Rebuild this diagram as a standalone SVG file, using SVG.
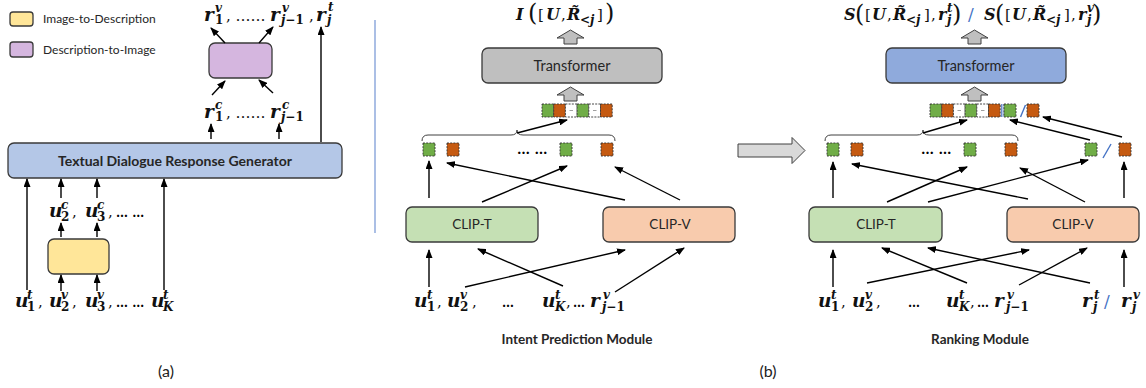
<svg xmlns="http://www.w3.org/2000/svg" width="1146" height="388" viewBox="0 0 1146 388">
<defs>
<marker id="ah" markerWidth="9" markerHeight="7" refX="8" refY="3.5" orient="auto" markerUnits="userSpaceOnUse">
<path d="M0,0 L9,3.5 L0,7 Z" fill="#000"/>
</marker>
<style>
.box{stroke:#3a3a3a;stroke-width:1.3}
.lbl{font-family:Lato,"Liberation Sans",sans-serif;fill:#262626}
.m{font-family:"DejaVu Serif",serif;font-weight:bold;font-style:italic;font-size:18.5px;fill:#111}
.t{font-family:"DejaVu Serif",serif;font-weight:bold;font-style:italic;font-size:16px;fill:#111}
.s{font-weight:bold;font-style:italic;font-size:12px}
.d{font-weight:bold;font-style:normal;font-size:12px}
.p{font-weight:normal;font-style:normal;font-size:15px}
.e{font-weight:bold;font-style:normal;font-size:12px;fill:#000}
.big{font-weight:normal;font-style:normal;font-size:24px}
.sl{font-weight:normal;font-style:normal;font-size:17px;fill:#4472c4}
.conn line{stroke:#000;stroke-width:1.4;marker-end:url(#ah)}
.g{fill:#70ad47;stroke:#333;stroke-width:0.9;stroke-dasharray:2 1.2}
.o{fill:#c55a11;stroke:#333;stroke-width:0.9;stroke-dasharray:2 1.2}
.w{fill:#fff;stroke:#333;stroke-width:0.9;stroke-dasharray:2 1.2}
.blk{fill:#bfbfbf;stroke:#404040;stroke-width:1}
.brace{fill:none;stroke:#404040;stroke-width:1}
.blue{stroke:#4472c4;stroke-width:1.4}
.dots{font-family:"DejaVu Serif",serif;font-size:13px;font-weight:bold;fill:#000}
</style>
</defs>
<rect width="1146" height="388" fill="#fff"/>

<!-- Legend -->
<g id="legend">
<rect x="10" y="12" width="23" height="14" rx="3" fill="#ffe699" class="box"/>
<text x="43" y="23" class="lbl" font-size="12">Image-to-Description</text>
<rect x="10" y="42" width="23" height="15" rx="3" fill="#d5b6df" class="box"/>
<text x="43" y="54" class="lbl" font-size="12">Description-to-Image</text>
</g>

<!-- Panel (a) nodes -->
<g id="generator">
<rect x="8" y="143" width="334" height="35" rx="6" fill="#b4c7e7" class="box"/>
<text x="175" y="166" class="lbl" font-size="14" font-weight="bold" text-anchor="middle">Textual Dialogue Response Generator</text>
</g>
<g id="desc2img"><rect x="209" y="43" width="63" height="35" rx="6" fill="#d5b6df" class="box"/></g>
<g id="img2desc"><rect x="48" y="239" width="61" height="35" rx="6" fill="#ffe699" class="box"/></g>

<g id="a-labels">
<text class="m" y="21"><tspan x="204">r</tspan><tspan class="s" x="215" y="12">v</tspan><tspan class="d" x="215" y="24">1</tspan><tspan class="p" x="226" y="21">, ……</tspan><tspan x="270" y="21">r</tspan><tspan class="s" x="282" y="12">v</tspan><tspan class="d" x="281" y="24"><tspan font-style="italic">j</tspan>−1</tspan><tspan class="p" x="309" y="21">,</tspan><tspan x="316" y="21">r</tspan><tspan class="s" x="328" y="11">t</tspan><tspan class="s" x="327" y="24">j</tspan></text>

<text class="m" y="118"><tspan x="204">r</tspan><tspan class="s" x="215" y="109">c</tspan><tspan class="d" x="215" y="121">1</tspan><tspan class="p" x="226" y="118">, ……</tspan><tspan x="270" y="118">r</tspan><tspan class="s" x="282" y="109">c</tspan><tspan class="d" x="281" y="121"><tspan font-style="italic">j</tspan>−1</tspan></text>

<text class="m" y="217"><tspan x="49">u</tspan><tspan class="s" x="61" y="209">c</tspan><tspan class="d" x="61" y="221">2</tspan><tspan class="p" x="72" y="217">,</tspan><tspan x="85" y="217">u</tspan><tspan class="s" x="97" y="209">c</tspan><tspan class="d" x="97" y="221">3</tspan><tspan class="p" x="108" y="217">,</tspan><tspan class="e" x="116" y="217">… …</tspan></text>

<text class="m" y="307"><tspan x="15">u</tspan><tspan class="s" x="27" y="299">t</tspan><tspan class="d" x="27" y="311">1</tspan><tspan class="p" x="38" y="307">,</tspan><tspan x="49" y="307">u</tspan><tspan class="s" x="61" y="299">v</tspan><tspan class="d" x="61" y="311">2</tspan><tspan class="p" x="72" y="307">,</tspan><tspan x="85" y="307">u</tspan><tspan class="s" x="97" y="299">v</tspan><tspan class="d" x="97" y="311">3</tspan><tspan class="p" x="108" y="307">,</tspan><tspan class="e" x="116" y="307">… …</tspan><tspan x="151" y="307">u</tspan><tspan class="s" x="163" y="299">t</tspan><tspan class="s" x="163" y="311">K</tspan></text>
<text x="166" y="377" font-family="Lato,'Liberation Sans',sans-serif" font-size="16" fill="#222" text-anchor="middle">(a)</text>
</g>

<line x1="375" y1="20" x2="375" y2="233" stroke="#8faadc" stroke-width="1.5"/>

<!-- Panel (b) left : intent prediction -->
<g id="transformer1">
<rect x="482" y="48" width="180" height="35" rx="6" fill="#bfbfbf" class="box"/>
<text x="572" y="71" class="lbl" font-size="14.5" text-anchor="middle">Transformer</text>
</g>
<g id="clipt1">
<rect x="406" y="207" width="132" height="35" rx="6" fill="#c5e0b4" class="box"/>
<text x="472" y="229" class="lbl" font-size="13.5" text-anchor="middle">CLIP-T</text>
</g>
<g id="clipv1">
<rect x="603" y="207" width="132" height="35" rx="6" fill="#f8cbad" class="box"/>
<text x="670" y="229" class="lbl" font-size="13.5" text-anchor="middle">CLIP-V</text>
</g>
<g id="blockarrows1">
<path class="blk" d="M570.5,30 L584,38 L577,38 L577,44 L564,44 L564,38 L557,38 Z"/>
<path class="blk" d="M570.5,87 L584,95 L577,95 L577,101 L564,101 L564,95 L557,95 Z"/>
</g>
<g id="seq1">
<rect x="542" y="104" width="11.7" height="13" class="g"/>
<rect x="553.7" y="104" width="11.7" height="13" class="o"/>
<rect x="565.4" y="104" width="11.7" height="13" class="w"/>
<rect x="577.1" y="104" width="11.7" height="13" class="g"/>
<rect x="588.8" y="104" width="11.7" height="13" class="w"/>
<rect x="600.5" y="104" width="11.7" height="13" class="o"/>
<line x1="569.5" y1="110.5" x2="573" y2="110.5" stroke="#888" stroke-width="0.8"/>
<line x1="593" y1="110.5" x2="596.5" y2="110.5" stroke="#888" stroke-width="0.8"/>
</g>
<g id="tokens1">
<rect x="423" y="143" width="12" height="13" class="g"/>
<rect x="447" y="143" width="12" height="13" class="o"/>
<text x="517" y="154" class="dots">… …</text>
<rect x="560" y="143" width="12" height="13" class="g"/>
<rect x="601" y="143" width="12" height="13" class="o"/>
<path class="brace" d="M422,141 Q422,135 428,135 L511,135 Q517,135 517,130 Q517,135 523,135 L609,135 Q615,135 615,141"/>
</g>
<g id="b-left-labels">
<text class="t" y="20"><tspan x="516">I</tspan><tspan class="big" x="528" y="21">(</tspan><tspan class="p" x="538" y="20">[</tspan><tspan x="546" y="20">U</tspan><tspan class="p" x="561" y="20">,</tspan><tspan x="567" y="20">R&#x303;</tspan><tspan class="s" x="580" y="24">&lt;j</tspan><tspan class="p" x="597" y="20">]</tspan><tspan class="big" x="605" y="21">)</tspan></text>

<text class="m" y="307"><tspan x="414">u</tspan><tspan class="s" x="427" y="299">t</tspan><tspan class="d" x="427" y="311">1</tspan><tspan class="p" x="437" y="307">,</tspan><tspan x="447" y="307">u</tspan><tspan class="s" x="460" y="299">v</tspan><tspan class="d" x="460" y="311">2</tspan><tspan class="p" x="472" y="307">,</tspan><tspan class="e" x="502" y="307">…</tspan><tspan x="542" y="307">u</tspan><tspan class="s" x="555" y="299">t</tspan><tspan class="s" x="555" y="311">K</tspan><tspan class="p" x="566" y="307">,</tspan><tspan class="e" x="573" y="307">…</tspan><tspan x="590" y="307">r</tspan><tspan class="s" x="603" y="299">v</tspan><tspan class="d" x="602" y="311"><tspan font-style="italic">j</tspan>−1</tspan></text>
<text x="577" y="344" class="lbl" font-size="13.5" font-weight="bold" text-anchor="middle">Intent Prediction Module</text>
</g>

<!-- big arrow between modules -->
<path d="M738,144 L792,144 L792,137.5 L805,150.5 L792,163.5 L792,157 L738,157 Z" fill="#d9d9d9" stroke="#404040" stroke-width="1"/>
<text x="768" y="377" font-family="Lato,'Liberation Sans',sans-serif" font-size="16" fill="#222" text-anchor="middle">(b)</text>

<!-- Panel (b) right : ranking -->
<g id="transformer2">
<rect x="886" y="48" width="180" height="35" rx="6" fill="#8faadc" class="box"/>
<text x="976" y="71" class="lbl" font-size="14.5" text-anchor="middle">Transformer</text>
</g>
<g id="clipt2">
<rect x="809" y="207" width="133" height="35" rx="6" fill="#c5e0b4" class="box"/>
<text x="876" y="229" class="lbl" font-size="13.5" text-anchor="middle">CLIP-T</text>
</g>
<g id="clipv2">
<rect x="1007" y="207" width="132" height="35" rx="6" fill="#f8cbad" class="box"/>
<text x="1073" y="229" class="lbl" font-size="13.5" text-anchor="middle">CLIP-V</text>
</g>
<g id="blockarrows2">
<path class="blk" d="M974.5,30 L988,38 L981,38 L981,44 L968,44 L968,38 L961,38 Z"/>
<path class="blk" d="M974.5,87 L988,95 L981,95 L981,101 L968,101 L968,95 L961,95 Z"/>
</g>
<g id="seq2">
<rect x="930" y="104" width="11.7" height="13" class="g"/>
<rect x="941.7" y="104" width="11.7" height="13" class="o"/>
<rect x="953.4" y="104" width="11.7" height="13" class="w"/>
<rect x="965.1" y="104" width="11.7" height="13" class="g"/>
<rect x="976.8" y="104" width="11.7" height="13" class="w"/>
<rect x="988.5" y="104" width="11.7" height="13" class="o"/>
<line x1="957.5" y1="110.5" x2="961" y2="110.5" stroke="#888" stroke-width="0.8"/>
<line x1="981" y1="110.5" x2="984.5" y2="110.5" stroke="#888" stroke-width="0.8"/>
<line x1="1001.5" y1="104" x2="1001.5" y2="117" stroke="#4472c4" stroke-width="0.8"/>
<line x1="1003" y1="104" x2="1003" y2="117" stroke="#4472c4" stroke-width="0.8"/>
<rect x="1004" y="104" width="12" height="13" class="g"/>
<line x1="1020.5" y1="117" x2="1025.5" y2="105" class="blue" stroke-width="1.2"/>
<rect x="1027" y="104" width="12" height="13" class="o"/>
</g>
<g id="tokens2">
<rect x="827" y="143" width="12" height="13" class="g"/>
<rect x="851" y="143" width="12" height="13" class="o"/>
<text x="921" y="154" class="dots">… …</text>
<rect x="964" y="143" width="12" height="13" class="g"/>
<rect x="1005" y="143" width="12" height="13" class="o"/>
<rect x="1085" y="143" width="12" height="13" class="g"/>
<line x1="1103" y1="158" x2="1111" y2="144" class="blue" stroke-width="1.2"/>
<rect x="1119" y="143" width="12" height="13" class="o"/>
<path class="brace" d="M825,141 Q825,135 831,135 L917,135 Q923,135 923,130 Q923,135 929,135 L1012,135 Q1018,135 1018,141"/>
</g>
<g id="b-right-labels">
<text class="t" y="20"><tspan x="844">S</tspan><tspan class="big" x="855" y="22">(</tspan><tspan class="p" x="865" y="20">[</tspan><tspan x="872" y="20">U</tspan><tspan class="p" x="887" y="20">,</tspan><tspan x="893" y="20">R&#x303;</tspan><tspan class="s" x="906" y="24">&lt;j</tspan><tspan class="p" x="924" y="20">]</tspan><tspan class="p" x="931" y="20">,</tspan><tspan x="938" y="20">r</tspan><tspan class="s" x="947" y="12">t</tspan><tspan class="s" x="947" y="24">j</tspan><tspan class="big" x="952" y="22">)</tspan><tspan class="sl" x="968" y="20">/</tspan><tspan x="984" y="20">S</tspan><tspan class="big" x="995" y="22">(</tspan><tspan class="p" x="1005" y="20">[</tspan><tspan x="1012" y="20">U</tspan><tspan class="p" x="1027" y="20">,</tspan><tspan x="1033" y="20">R&#x303;</tspan><tspan class="s" x="1046" y="24">&lt;j</tspan><tspan class="p" x="1064" y="20">]</tspan><tspan class="p" x="1071" y="20">,</tspan><tspan x="1078" y="20">r</tspan><tspan class="s" x="1087" y="12">v</tspan><tspan class="s" x="1087" y="24">j</tspan><tspan class="big" x="1092" y="22">)</tspan></text>

<text class="m" y="307"><tspan x="818">u</tspan><tspan class="s" x="831" y="299">t</tspan><tspan class="d" x="831" y="311">1</tspan><tspan class="p" x="841" y="307">,</tspan><tspan x="852" y="307">u</tspan><tspan class="s" x="865" y="299">v</tspan><tspan class="d" x="865" y="311">2</tspan><tspan class="p" x="876" y="307">,</tspan><tspan class="e" x="908" y="307">…</tspan><tspan x="946" y="307">u</tspan><tspan class="s" x="959" y="299">t</tspan><tspan class="s" x="959" y="311">K</tspan><tspan class="p" x="970" y="307">,</tspan><tspan class="e" x="977" y="307">…</tspan><tspan x="994" y="307">r</tspan><tspan class="s" x="1007" y="299">v</tspan><tspan class="d" x="1006" y="311"><tspan font-style="italic">j</tspan>−1</tspan><tspan x="1082" y="307">r</tspan><tspan class="s" x="1094" y="299">t</tspan><tspan class="s" x="1093" y="311">j</tspan><tspan class="sl" x="1104" y="307">/</tspan><tspan x="1121" y="307">r</tspan><tspan class="s" x="1133" y="299">v</tspan><tspan class="s" x="1132" y="311">j</tspan></text>
<text x="980" y="344" class="lbl" font-size="13.5" font-weight="bold" text-anchor="middle">Ranking Module</text>
</g>

<!-- connectors -->
<g id="connectors" class="conn">
<line x1="27" y1="290" x2="27" y2="179"/>
<line x1="61" y1="198" x2="61" y2="179"/>
<line x1="97" y1="198" x2="97" y2="179"/>
<line x1="164" y1="290" x2="164" y2="179"/>
<line x1="61" y1="237" x2="61" y2="223"/>
<line x1="97" y1="237" x2="97" y2="223"/>
<line x1="61" y1="291" x2="61" y2="275"/>
<line x1="97" y1="291" x2="97" y2="275"/>
<line x1="211" y1="139" x2="211" y2="124"/>
<line x1="279" y1="139" x2="279" y2="124"/>
<line x1="321" y1="142" x2="321" y2="27"/>
<line x1="212" y1="95" x2="225" y2="81"/>
<line x1="273" y1="93" x2="259" y2="80"/>
<line x1="225" y1="43" x2="211" y2="28"/>
<line x1="259" y1="43" x2="273" y2="27"/>

<line x1="517" y1="133" x2="567" y2="120"/>
<line x1="429" y1="198" x2="429" y2="161"/>
<line x1="625" y1="200" x2="447" y2="163"/>
<line x1="482" y1="202" x2="567" y2="166"/>
<line x1="680" y1="200" x2="615" y2="167"/>
<line x1="429" y1="287" x2="429" y2="250"/>
<line x1="465" y1="287" x2="625" y2="250"/>
<line x1="563" y1="286" x2="478" y2="249"/>
<line x1="615" y1="292" x2="684" y2="248"/>

<line x1="923" y1="133" x2="967" y2="120"/>
<line x1="1090" y1="140" x2="1010" y2="120"/>
<line x1="1122" y1="137" x2="1043" y2="117"/>
<line x1="833" y1="198" x2="833" y2="162"/>
<line x1="1028" y1="199" x2="852" y2="164"/>
<line x1="887" y1="202" x2="967" y2="167"/>
<line x1="1085" y1="202" x2="1020" y2="168"/>
<line x1="928" y1="202" x2="1088" y2="160"/>
<line x1="1124" y1="198" x2="1124" y2="162"/>
<line x1="833" y1="287" x2="833" y2="250"/>
<line x1="867" y1="283" x2="1029" y2="250"/>
<line x1="967" y1="283" x2="882" y2="248"/>
<line x1="1019" y1="285" x2="1087" y2="248"/>
<line x1="1090" y1="283" x2="928" y2="248"/>
<line x1="1124" y1="287" x2="1124" y2="250"/>
</g>
</svg>
